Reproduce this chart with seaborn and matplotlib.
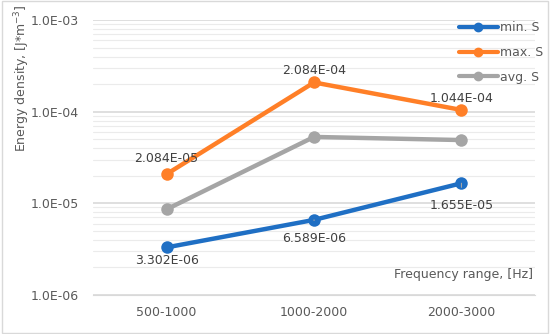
import pandas as pd
import numpy as np
import matplotlib
matplotlib.use("Agg")
import matplotlib.pyplot as plt
from matplotlib.lines import Line2D
from matplotlib.ticker import LogLocator, FuncFormatter, NullFormatter
import seaborn as sns

# Daten
categories = ["500-1000", "1000-2000", "2000-3000"]
min_s = [3.302e-06, 6.589e-06, 1.655e-05]
max_s = [2.084e-05, 2.084e-04, 1.044e-04]
avg_s = [8.6e-06, 5.3e-05, 4.9e-05]
series_names = ["min. S", "max. S", "avg. S"]
colors = ["#1F6FC4", "#FF7F27", "#A5A5A5"]

df = pd.DataFrame({
    "x": list(range(3)) * 3,
    "value": min_s + max_s + avg_s,
    "series": [s for s in series_names for _ in range(3)],
})

sns.set_style("white")
plt.rcParams["font.family"] = ["DejaVu Sans"]

fig = plt.figure(figsize=(5.5, 3.34), dpi=100)
ax = fig.add_axes([0.169, 0.117, 0.804, 0.823])

sns.lineplot(data=df, x="x", y="value", hue="series", palette=colors,
             marker="o", markersize=9, markeredgewidth=0, linewidth=3.2,
             ax=ax, legend=False)

ax.set_yscale("log")
ax.set_ylim(1e-6, 1e-3)
ax.set_xlim(-0.5, 2.5)
ax.set_xticks(range(3))
ax.set_xticklabels(categories)
ax.yaxis.set_major_locator(LogLocator(base=10, numticks=10))
ax.yaxis.set_major_formatter(FuncFormatter(lambda v, p: "%.1E" % v))
ax.yaxis.set_minor_locator(LogLocator(base=10, subs=np.arange(2, 10), numticks=20))
ax.yaxis.set_minor_formatter(NullFormatter())
ax.grid(True, which="major", axis="y", color="#D9D9D9", linewidth=1.2)
ax.grid(True, which="minor", axis="y", color="#EBEBEB", linewidth=0.8)
ax.set_axisbelow(True)
for side in ["top", "right", "left"]:
    ax.spines[side].set_visible(False)
ax.spines["bottom"].set_color("#D9D9D9")
ax.tick_params(axis="both", length=0, labelsize=9, colors="#595959", pad=8)
ax.tick_params(axis="y", pad=10)

ax.set_xlabel("")
ax.set_ylabel("")
fig.text(22 / 550, 1 - 78 / 334, "Energy density, [J*m$^{-3}$]", rotation=90,
         ha="center", va="center", fontsize=9, color="#595959")
ax.text(0.995, 0.05, "Frequency range, [Hz]", transform=ax.transAxes,
        ha="right", va="bottom", fontsize=9, color="#595959")

# Datenbeschriftungen (Abstand in Punkten)
max_off = [11.5, 8.5, 8]
min_off = [-9.5, -13.5, -16]
lbl = dict(fontsize=9, color="#404040", ha="center", va="center", textcoords="offset points")
for i, v in enumerate(max_s):
    ax.annotate("%.3E" % v, (i, v), xytext=(0, max_off[i]), **lbl)
for i, v in enumerate(min_s):
    leader = None
    if i > 0:
        leader = dict(arrowstyle="-", color="#A6A6A6", lw=0.8, shrinkA=6, shrinkB=0)
    ax.annotate("%.3E" % v, (i, v), xytext=(0, min_off[i]), arrowprops=leader, **lbl)

handles = [Line2D([], [], color=c, lw=3, marker="o", markersize=6) for c in colors]
leg = fig.legend(handles, series_names, loc="upper left", frameon=False, fontsize=9,
                 labelspacing=0.95, handlelength=3.1, handletextpad=0.15,
                 bbox_to_anchor=(454 / 550, 1 - 16 / 334), borderaxespad=0)
for t in leg.get_texts():
    t.set_color("#595959")

fig.patches.append(plt.Rectangle((0.003, 0.003), 0.994, 0.994, transform=fig.transFigure,
                                 fill=False, edgecolor="#D9D9D9", linewidth=1))
fig.savefig("out.png", dpi=100)
